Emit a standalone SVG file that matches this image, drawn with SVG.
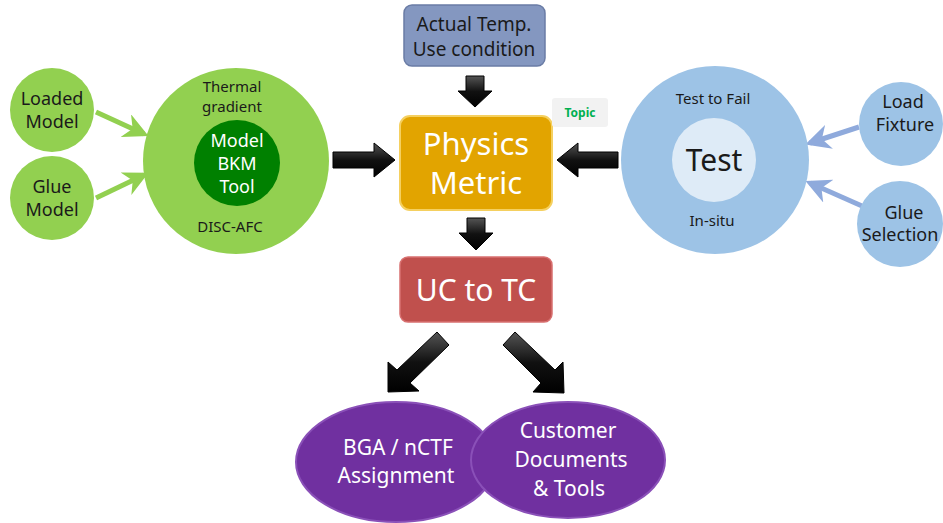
<svg xmlns="http://www.w3.org/2000/svg" width="943" height="523" viewBox="0 0 943 523">
<defs>
<style>
text{font-family:"Noto Sans","DejaVu Sans",sans-serif;text-anchor:middle}
.g{fill:#92d050}
.b{fill:#9dc3e6}
.sm{font-size:15px;fill:#1a1a1a}
.md{font-size:18px;fill:#1a1a1a}
.wt{fill:#fff}
.blk{fill:url(#bk);stroke:#000;stroke-width:1}
</style>
<linearGradient id="bk" x1="0" y1="0" x2="0" y2="1">
<stop offset="0" stop-color="#555"/><stop offset="0.5" stop-color="#111"/><stop offset="1" stop-color="#000"/>
</linearGradient>
<marker id="ga" viewBox="0 0 10 10" refX="8" refY="5" markerWidth="5" markerHeight="5" orient="auto"><path d="M0,0 L10,5 L0,10 L3,5 z" fill="#92d050"/></marker>
<marker id="ba" viewBox="0 0 10 10" refX="8" refY="5" markerWidth="5" markerHeight="5" orient="auto"><path d="M0,0 L10,5 L0,10 L3,5 z" fill="#8faadc"/></marker>
</defs>
<rect width="943" height="523" fill="#fff"/>

<g id="connectors">
<line x1="96" y1="112" x2="144" y2="134" stroke="#92d050" stroke-width="5" marker-end="url(#ga)"/>
<line x1="96" y1="198" x2="144" y2="175" stroke="#92d050" stroke-width="5" marker-end="url(#ga)"/>
<line x1="859" y1="127" x2="810" y2="143" stroke="#8faadc" stroke-width="5" marker-end="url(#ba)"/>
<line x1="862" y1="206" x2="810" y2="183" stroke="#8faadc" stroke-width="5" marker-end="url(#ba)"/>
<polygon class="blk" points="466,76 484,76 484,91 492,91 475,107 458,91 466,91"/>
<polygon class="blk" points="333,152 374,152 374,143 395,160 374,177 374,168 333,168"/>
<polygon class="blk" points="618,152 578,152 578,143 557,160 578,177 578,168 618,168"/>
<polygon class="blk" points="467,218 485,218 485,233 493,233 476,250 459,233 467,233"/>
<polygon class="blk" points="437,332 449,345 410,383 419,391 388,392 388,362 397,370"/>
<polygon class="blk" points="503,345 515,332 555,370 563,362 564,393 533,392 541,383"/>
</g>

<g id="loaded-model"><circle class="g" cx="52" cy="110" r="42"/><text class="md" x="52" y="105">Loaded</text><text class="md" x="52" y="128">Model</text></g>
<g id="glue-model"><circle class="g" cx="52" cy="198" r="42"/><text class="md" x="52" y="193">Glue</text><text class="md" x="52" y="216">Model</text></g>
<g id="model-group"><circle class="g" cx="236" cy="161" r="93"/><text class="sm" x="232" y="92">Thermal</text><text class="sm" x="232" y="112">gradient</text><text class="sm" x="230" y="232">DISC-AFC</text>
<circle cx="237" cy="163" r="43" fill="#008000"/><text class="md wt" x="237" y="147">Model</text><text class="md wt" x="237" y="170">BKM</text><text class="md wt" x="237" y="193">Tool</text></g>

<g id="actual-temp"><rect x="404" y="5" width="141" height="61" rx="8" fill="#8497c0" stroke="#6a7ca5" stroke-width="1.5"/><text x="474" y="31" style="font-size:19px;fill:#1a1a1a">Actual Temp.</text><text x="474" y="56" style="font-size:19px;fill:#1a1a1a">Use condition</text></g>

<g id="physics-metric"><rect x="400" y="116" width="152" height="94" rx="10" fill="#e2a400" stroke="#f5d060" stroke-width="2"/><text class="wt" x="476" y="155" style="font-size:31px">Physics</text><text class="wt" x="476" y="194" style="font-size:31px">Metric</text></g>

<g id="topic"><rect x="552" y="98" width="56" height="29" rx="3" fill="#f2f2f2"/><text x="580" y="117" style="font-size:12px;font-weight:bold;fill:#00b050">Topic</text></g>

<g id="test-group"><circle class="b" cx="715" cy="160" r="94"/><text class="sm" x="713" y="104">Test to Fail</text><text class="sm" x="712" y="226">In-situ</text>
<circle cx="714" cy="160" r="42" fill="#deebf7"/><text x="714" y="171" style="font-size:30px;fill:#1a1a1a">Test</text></g>

<g id="load-fixture"><circle class="b" cx="901" cy="124" r="42"/><text class="md" x="903" y="108">Load</text><text class="md" x="905" y="131">Fixture</text></g>
<g id="glue-selection"><circle class="b" cx="900" cy="224" r="43"/><text class="md" x="904" y="219">Glue</text><text class="md" x="900" y="241">Selection</text></g>

<g id="uc-to-tc"><rect x="400" y="257" width="152" height="65" rx="8" fill="#c0504d" stroke="#d87070" stroke-width="1.5"/><text class="wt" x="476" y="301" style="font-size:30px">UC to TC</text></g>

<g id="bga"><ellipse cx="396" cy="462" rx="100" ry="60" fill="#7030a0" stroke="#8a50b8" stroke-width="2"/><text class="wt" x="398" y="455" style="font-size:21px">BGA / nCTF</text><text class="wt" x="396" y="483" style="font-size:21px">Assignment</text></g>
<g id="customer"><ellipse cx="568" cy="460" rx="97" ry="58" fill="#7030a0" stroke="#8a50b8" stroke-width="2"/><text class="wt" x="568" y="438" style="font-size:21px">Customer</text><text class="wt" x="571" y="467" style="font-size:21px">Documents</text><text class="wt" x="569" y="496" style="font-size:21px">&amp; Tools</text></g>
</svg>
